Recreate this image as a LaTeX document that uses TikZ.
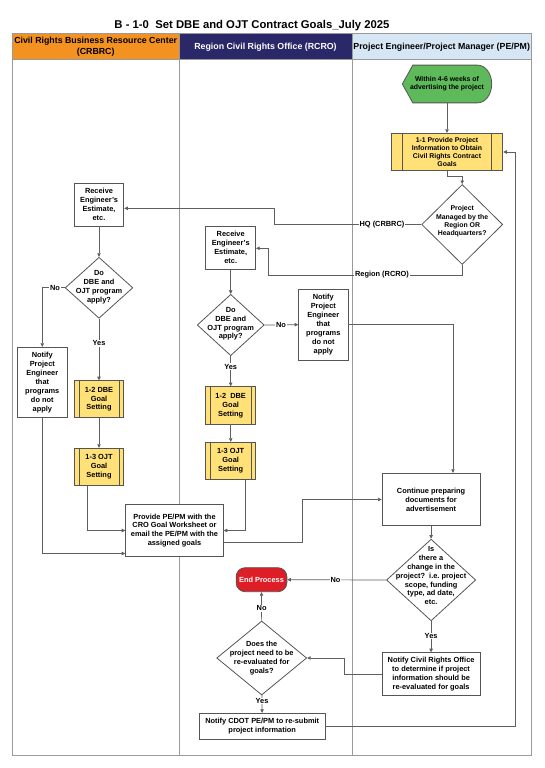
\documentclass[tikz,border=0pt]{standalone}
\usepackage{fontspec}
\setmainfont{Liberation Sans}
\usetikzlibrary{shapes.geometric,arrows.meta}
\definecolor{hdrorange}{HTML}{F39221}
\definecolor{hdrnavy}{HTML}{2A2869}
\definecolor{hdrblue}{HTML}{D6E6F5}
\definecolor{startg}{HTML}{5DB95A}
\definecolor{procy}{HTML}{FFE178}
\definecolor{endred}{HTML}{DD1E26}
\definecolor{bordc}{HTML}{555555}
\definecolor{linec}{HTML}{5F5F5F}
\definecolor{lanec}{HTML}{9A9A9A}
\newcommand\mybf{\fontsize{7.4}{8.9}\selectfont\bfseries}
\newcommand\mybfs{\fontsize{6.9}{8.3}\selectfont\bfseries}
\newcommand\mystripes[2]{%
  \draw[bline] ([xshift=#2]#1.north west) -- ([xshift=#2]#1.south west);
  \draw[bline] ([xshift=-#2]#1.north east) -- ([xshift=-#2]#1.south east);}
\frenchspacing
\begin{document}
\begin{tikzpicture}[x=1pt,y=-1pt,
  bline/.style={draw=bordc, line width=0.8pt},
  box/.style={rectangle, draw=bordc, line width=0.8pt, fill=white, inner sep=1pt, align=center, font=\mybf},
  pproc/.style={box, fill=procy},
  decision/.style={diamond, draw=bordc, line width=0.8pt, fill=white, inner sep=0pt},
  dtext/.style={align=center, font=\mybf, inner sep=0pt},
  arr/.style={draw=linec, line width=0.7pt, -{Triangle[length=3.6pt,width=3.4pt]}},
  lbl/.style={fill=white, inner sep=0.8pt, font=\mybf},
  lane/.style={draw=lanec, line width=1pt},
  hdr/.style={draw=lanec, line width=1pt}
]
\useasboundingbox (0,0) rectangle (544,768);
\fill[white] (0,0) rectangle (544,768);

% title
\node[font=\fontsize{11.3}{13}\selectfont\bfseries] (title) at (252,26) {B - 1-0~~Set DBE and OJT Contract Goals\_July 2025};

% headers
\filldraw[hdr, fill=hdrorange] (12.5,34) rectangle (179,60);
\filldraw[hdr, fill=hdrnavy] (179,34) rectangle (352,60);
\filldraw[hdr, fill=hdrblue] (352,34) rectangle (531,60);
\node[align=center, font=\fontsize{8.8}{10.7}\selectfont\bfseries, inner sep=0pt] (h1) at (95.7,46.9) {Civil Rights Business Resource Center\\(CRBRC)};
\node[font=\fontsize{8.8}{10.7}\selectfont\bfseries, text=white, inner sep=0pt] (h2) at (265.5,47) {Region Civil Rights Office (RCRO)};
\node[font=\fontsize{8.8}{10.7}\selectfont\bfseries, inner sep=0pt] (h3) at (441.7,47) {Project Engineer/Project Manager (PE/PM)};

% lanes
\draw[lane] (12.5,34) rectangle (531,755);
\draw[lane] (179,60) -- (179,755);
\draw[lane] (352,60) -- (352,755);

% start shape
\fill[startg, draw=bordc, line width=0.8pt] (402.3,84) -- (412.8,65.15) -- (477.7,65.15)
   arc[start angle=90, end angle=-90, x radius=14pt, y radius=18.85pt] -- (412.8,102.85) -- cycle;
\node[font=\mybfs, align=center, minimum width=89.4pt, minimum height=37.7pt, inner sep=0pt] (start) at (447,84) {Within 4-6 weeks of\\advertising the project};

% PE/PM lane
\node[pproc, font=\mybfs, minimum width=111.6pt, minimum height=37.4pt] (p11) at (447,152) {1-1 Provide Project\\Information to Obtain\\Civil Rights Contract\\Goals};
\mystripes{p11}{11.6pt}
\node[decision, minimum width=81pt, minimum height=80pt] (dia1) at (462.2,224.5) {};
\node[dtext, font=\mybfs] (dia1t) at (462.2,221.5) {Project\\Managed by the\\Region OR\\Headquarters?};

\node[box, minimum width=98.2pt, minimum height=52.4pt] (cont) at (431.1,499.5) {Continue preparing\\documents for\\advertisement};
\node[decision, minimum width=89.2pt, minimum height=81.7pt] (dia4) at (431.1,580) {};
\node[dtext] (dia4t) at (431.1,575.6) {Is\\there a\\change in the\\project?~~i.e. project\\scope, funding\\type, ad date,\\etc.};
\node[box, minimum width=98.2pt, minimum height=43pt] (ncro) at (431.1,674.2) {Notify Civil Rights Office\\to determine if project\\information should be\\re-evaluated for goals};

% CRBRC lane
\node[box, minimum width=49.5pt, minimum height=42.7pt] (rec1) at (99,204.7) {Receive\\Engineer's\\Estimate,\\etc.};
\node[decision, minimum width=67.7pt, minimum height=61pt] (dia2) at (99,287.8) {};
\node[dtext] (dia2t) at (99,286.9) {Do\\DBE and\\OJT program\\apply?};
\node[box, minimum width=50pt, minimum height=70.4pt] (not1) at (42.3,382.5) {Notify\\Project\\Engineer\\that\\programs\\do not\\apply};
\node[pproc, minimum width=49.4pt, minimum height=37pt] (g12a) at (99,399.2) {1-2 DBE\\Goal\\Setting};
\mystripes{g12a}{5pt}
\node[pproc, minimum width=49.4pt, minimum height=37.4pt] (g13a) at (99,467) {1-3 OJT\\Goal\\Setting};
\mystripes{g13a}{5pt}

% RCRO lane
\node[box, minimum width=49.7pt, minimum height=43.3pt] (rec2) at (230.7,247.7) {Receive\\Engineer's\\Estimate,\\etc.};
\node[decision, minimum width=67pt, minimum height=61.3pt] (dia3) at (230.7,325) {};
\node[dtext] (dia3t) at (230.7,323.8) {Do\\DBE and\\OJT program\\apply?};
\node[box, minimum width=49.3pt, minimum height=70.7pt] (not2) at (323.3,324.7) {Notify\\Project\\Engineer\\that\\programs\\do not\\apply};
\node[pproc, minimum width=49.7pt, minimum height=37.3pt] (g12b) at (230.7,405.3) {1-2~~DBE\\Goal\\Setting};
\mystripes{g12b}{5pt}
\node[pproc, minimum width=49.7pt, minimum height=37pt] (g13b) at (230.7,460.8) {1-3 OJT\\Goal\\Setting};
\mystripes{g13b}{5pt}
\node[box, minimum width=97.6pt, minimum height=52.4pt] (prov) at (174.5,530.5) {Provide PE/PM with the\\CRO Goal Worksheet or\\email the PE/PM with the\\assigned goals};
\node[rectangle, rounded corners=9pt, draw=bordc, line width=0.8pt, fill=endred, text=white, font=\mybf, minimum width=50.7pt, minimum height=24pt, inner sep=0pt] (endp) at (261.5,579.7) {End Process};
\node[decision, minimum width=90pt, minimum height=74pt] (dia5) at (261.7,658) {};
\node[dtext] (dia5t) at (261.7,658.3) {Does the\\project need to be\\re-evaluated for\\goals?};
\node[box, minimum width=125.7pt, minimum height=25.7pt] (ncdot) at (262.2,726.2) {Notify CDOT PE/PM to re-submit\\project information};

% connectors
\draw[arr] (start) -- (p11);
\draw[arr] (p11.south) -- (447,176.7) -| (dia1.north);
\draw[arr] (dia1.west) -- (274.3,224.5) -- (274.3,208.3) -- (rec1.east |- 0,208.3);
\draw[arr] (dia1.south) |- (268,275) -- (268,248.3) -- (rec2.east |- 0,248.3);
\draw[arr] (rec1) -- (dia2);
\draw[arr] (dia2.west) -| (not1.north);
\draw[arr] (dia2) -- (g12a);
\draw[arr] (g12a) -- (g13a);
\draw[arr] (not1.south) -- (42.3,553.5) -- (prov.west |- 0,553.5);
\draw[arr] ([xshift=-11.7pt]g13a.south) |- (prov.west);
\draw[arr] (rec2) -- (dia3);
\draw[arr] (dia3.east) -- (not2.west);
\draw[arr] (dia3) -- (g12b);
\draw[arr] (g12b) -- (g13b);
\draw[arr] ([xshift=15.1pt]g13b.south) |- (prov.east);
\draw[arr] (not2.east) -| ([xshift=21.9pt]cont.north);
\draw[arr] ([yshift=-12.2pt]prov.east) -- (302,542.7) |- (cont.west);
\draw[arr] (cont) -- (dia4);
\draw[arr] (dia4.west) -- (endp.east);
\draw[arr] (dia4) -- (ncro);
\draw[arr] (ncro.west) -- (344.5,674.2) |- (dia5.east);
\draw[arr] (dia5) -- (endp);
\draw[arr] (dia5) -- (ncdot);
\draw[arr] (ncdot.east) -- (515.6,726.2) |- (p11.east);

% connector labels
\node[lbl] (lhq) at (382,224.5) {HQ (CRBRC)};
\node[lbl] (lrg) at (382,275) {Region (RCRO)};
\node[lbl] (lno1) at (55,287.8) {No};
\node[lbl] (lyes1) at (99,343.3) {Yes};
\node[lbl] (lno2) at (281,325) {No};
\node[lbl] (lyes2) at (230.7,366.7) {Yes};
\node[lbl] (lno3) at (335.5,579.7) {No};
\node[lbl] (lyes3) at (431.1,636) {Yes};
\node[lbl] (lno4) at (261.6,608.3) {No};
\node[lbl] (lyes4) at (262,701) {Yes};
\end{tikzpicture}
\end{document}
